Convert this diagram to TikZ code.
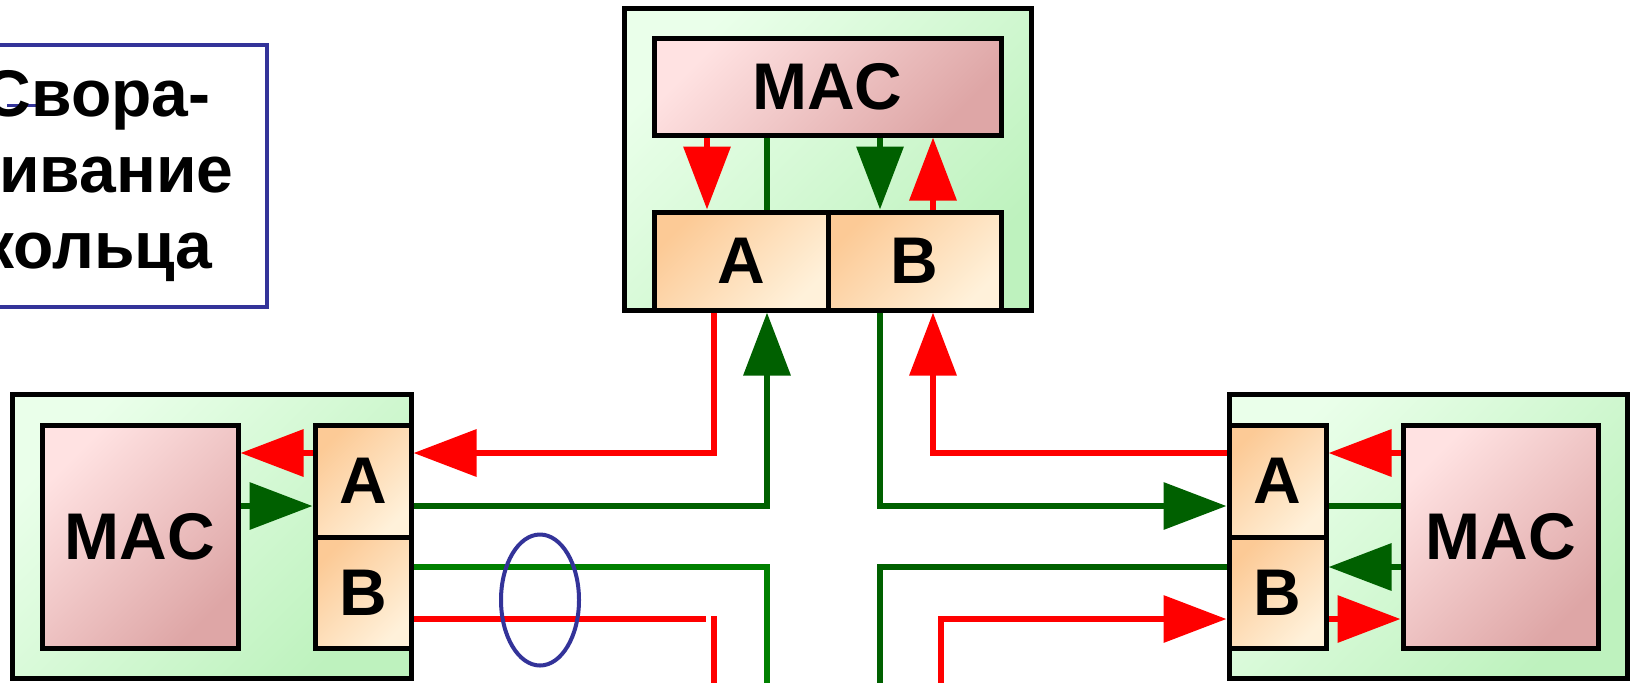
\documentclass[tikz,border=0pt]{standalone}
\usepackage{fontspec}
\setmainfont{Liberation Sans}
\usetikzlibrary{arrows.meta,shapes.geometric}

\definecolor{ringred}{RGB}{255,0,0}
\definecolor{ringgreen}{RGB}{0,96,0}
\definecolor{wrapgreen}{RGB}{0,128,0}
\definecolor{noteblue}{RGB}{51,51,153}
\definecolor{stTop}{RGB}{234,255,234}
\definecolor{stBot}{RGB}{190,242,190}
\definecolor{macTop}{RGB}{255,226,226}
\definecolor{macBot}{RGB}{222,166,166}
\definecolor{portTop}{RGB}{252,202,150}
\definecolor{portBot}{RGB}{255,241,218}

\tikzset{
  station/.style={draw,line width=2.5pt,top color=stTop,bottom color=stBot,shading angle=45},
  mac/.style={draw,line width=2.5pt,top color=macTop,bottom color=macBot,shading angle=45},
  port/.style={draw,line width=2.5pt,top color=portTop,bottom color=portBot,shading angle=45},
  rline/.style={draw=ringred,line width=3.3pt},
  gline/.style={draw=ringgreen,line width=3.3pt},
  lgline/.style={draw=wrapgreen,line width=3.3pt},
  arr/.style={-{Triangle[length=31.5pt,width=23pt]}},
  notebox/.style={draw=noteblue,line width=1.75pt,align=center,minimum width=170pt,minimum height=131pt},
  ring/.style={draw=noteblue,line width=2pt,ellipse,minimum width=39pt,minimum height=65.5pt}
}

\begin{document}
\begin{tikzpicture}
  [x=0.5pt,y=-0.5pt,every node/.style={inner sep=0pt,font=\bfseries\fontsize{33}{38}\selectfont}]
  \clip (0,0) rectangle (1636,682);

  % note
  \draw[noteblue,line width=1.5pt] (7,105) -- (37,105);
  \node[notebox] (note) at (97,176) {Свора-\\чивание\\кольца};

  % stations
  \node[station,minimum width=203.5pt,minimum height=151pt] (tS) at (827.5,159) {};
  \node[station,minimum width=199.5pt,minimum height=142pt] (lS) at (211.5,536) {};
  \node[station,minimum width=199pt,minimum height=142pt]   (rS) at (1428,536) {};

  \node[mac,minimum width=173.5pt,minimum height=48.5pt] (tM) at (827.5,86.5) {MAC};
  \node[mac,minimum width=98pt,minimum height=111.5pt]   (lM) at (140,536.5) {MAC};
  \node[mac,minimum width=97.5pt,minimum height=111.5pt] (rM) at (1500.5,536.5) {MAC};

  \node[port,minimum width=87pt,minimum height=49pt]     (tA) at (741,261) {A};
  \node[port,minimum width=86.5pt,minimum height=49pt]   (tB) at (914.5,261) {B};
  \node[port,minimum width=48pt,minimum height=56pt]     (lA) at (363,481) {A};
  \node[port,minimum width=48pt,minimum height=55.5pt]   (lB) at (363,592.5) {B};
  \node[port,minimum width=48.5pt,minimum height=56pt]   (rA) at (1277.5,481) {A};
  \node[port,minimum width=48.5pt,minimum height=55.5pt] (rB) at (1277.5,592.5) {B};

  % inside the stations
  \draw[rline,arr] ([xshift=-60.25pt]tM.south) -- ([xshift=-17pt]tA.north);
  \draw[gline]     ([xshift=13pt]tA.north) -- ([xshift=-30.25pt]tM.south);
  \draw[gline,arr] ([xshift=26.25pt]tM.south) -- ([xshift=-17.25pt]tB.north);
  \draw[rline,arr] ([xshift=9.25pt]tB.north) -- ([xshift=52.75pt]tM.south);

  \draw[rline,arr] ([yshift=14pt]lA.west) -- ([yshift=41.75pt]lM.east);
  \draw[gline,arr] ([yshift=15.25pt]lM.east) -- ([yshift=-12.5pt]lA.west);

  \draw[rline,arr] ([yshift=41.75pt]rM.west) -- ([yshift=14pt]rA.east);
  \draw[gline]     ([yshift=-12.5pt]rA.east) -- ([yshift=15.25pt]rM.west);
  \draw[gline,arr] ([yshift=-15.25pt]rM.west) -- ([yshift=12.75pt]rB.east);
  \draw[rline,arr] ([yshift=-13.25pt]rB.east) -- ([yshift=-41.25pt]rM.west);

  % ring between the stations
  \draw[rline,arr] ([xshift=-13.5pt]tA.south) |- ([yshift=14pt]lA.east);
  \draw[gline,arr] ([yshift=-12.5pt]lA.east) -| ([xshift=13pt]tA.south);
  \draw[gline,arr] ([xshift=-17.25pt]tB.south) |- ([yshift=-12.5pt]rA.west);
  \draw[rline,arr] ([yshift=14pt]rA.west) -| ([xshift=9.25pt]tB.south);

  % wrapped ring
  \coordinate (lgEnd) at (767,690);
  \coordinate (lrCut) at (706,619);
  \coordinate (lrTop) at (714,616);
  \coordinate (lrEnd) at (714,690);
  \coordinate (rgEnd) at (880,690);
  \coordinate (rrEnd) at (941,690);
  \draw[lgline] ([yshift=12.75pt]lB.east) -| (lgEnd);
  \draw[rline] ([yshift=-13.25pt]lB.east) -- (lrCut);
  \draw[rline] (lrTop) -- (lrEnd);
  \draw[gline] ([yshift=12.75pt]rB.west) -| (rgEnd);
  \draw[rline,arr] (rrEnd) |- ([yshift=-13.25pt]rB.west);

  \node[ring] (wrap) at (540,600) {};

\end{tikzpicture}
\end{document}
